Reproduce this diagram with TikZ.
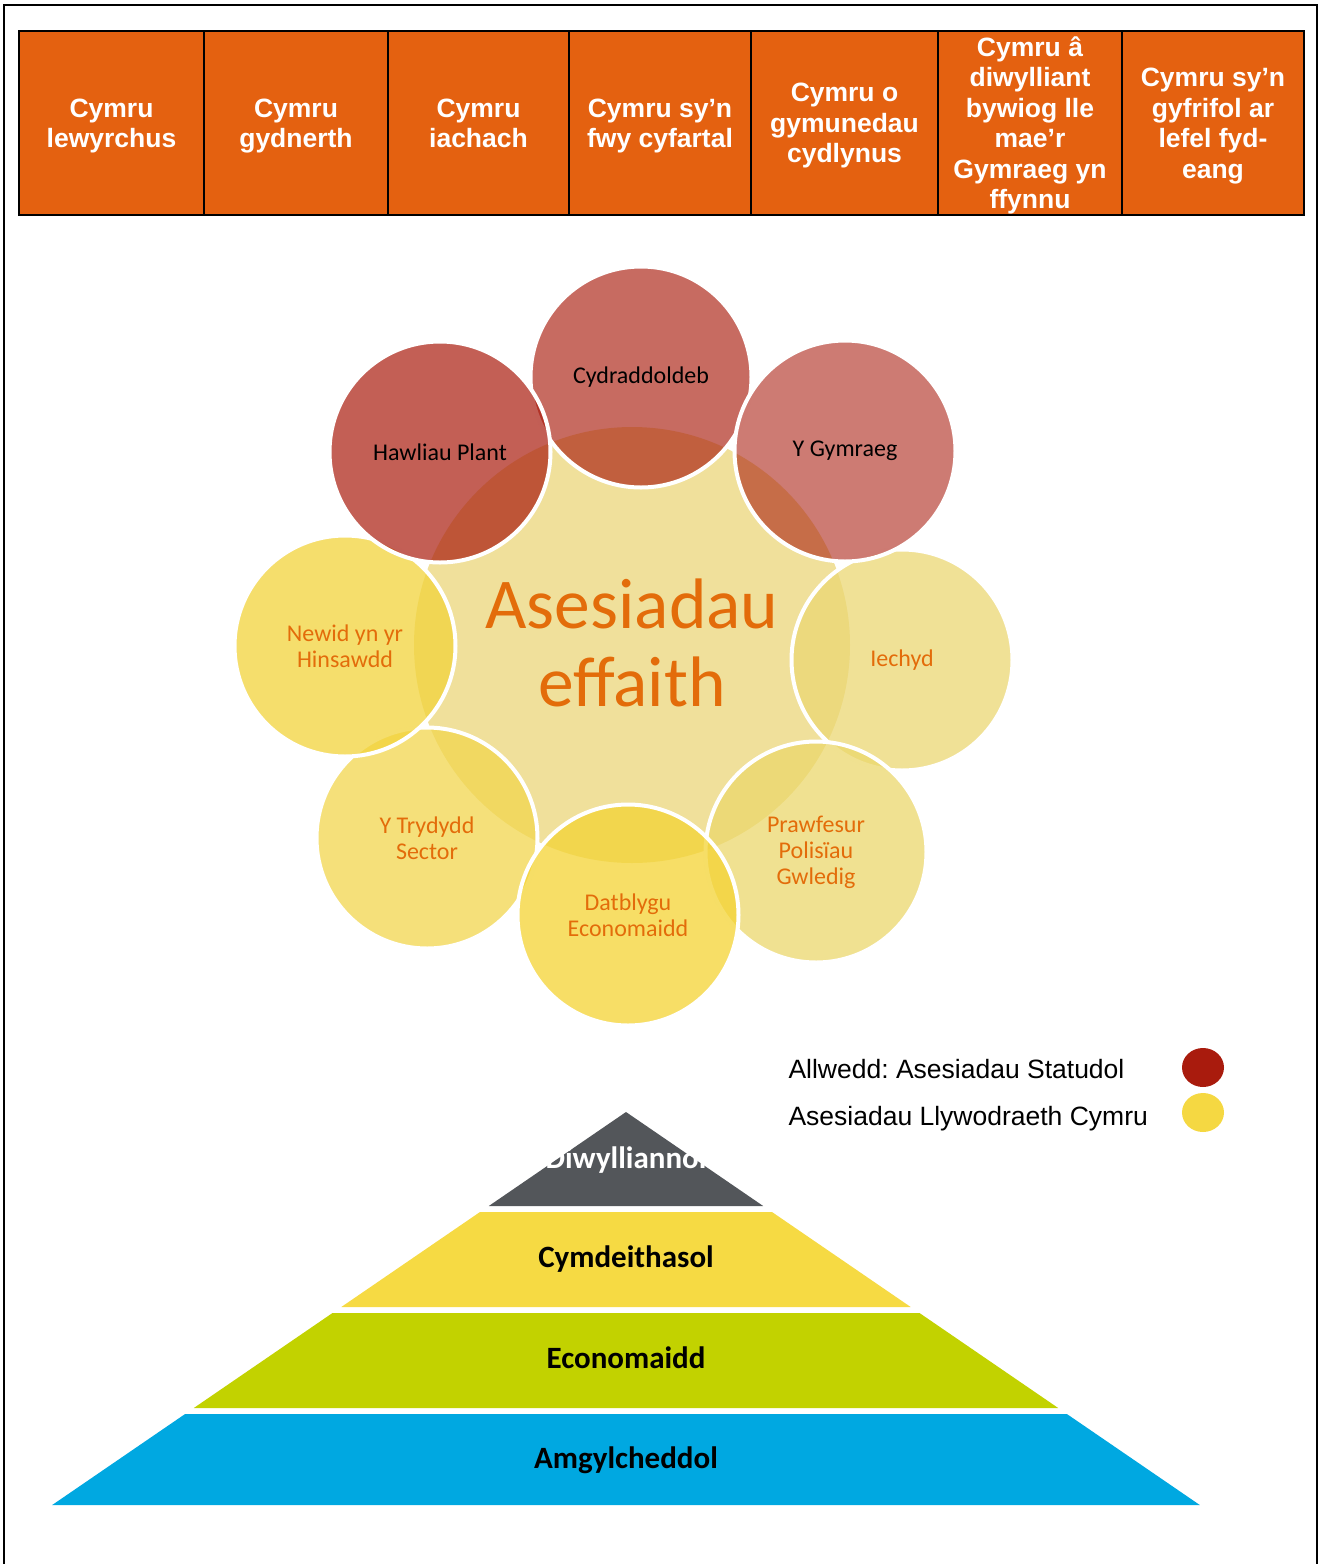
\documentclass[tikz,border=0pt]{standalone}
\usepackage{fontspec}
\usetikzlibrary{shapes.geometric}
\setmainfont{Liberation Sans}
\newfontfamily\calfont{Carlito}
\frenchspacing
\definecolor{tblorange}{HTML}{E46110}
\definecolor{statred}{HTML}{A91B0D}
\definecolor{wgyellow}{HTML}{F5D842}
\definecolor{ieorange}{HTML}{E36C0A}
\definecolor{centerfill}{HTML}{F0E09B}
\definecolor{ylA}{HTML}{F2D33B}
\definecolor{ylB}{HTML}{EBD773}
\definecolor{ylC}{HTML}{F2D64E}
\definecolor{ylD}{HTML}{EBD76C}
\definecolor{ylE}{HTML}{F4D333}
\definecolor{pygray}{HTML}{53565A}
\definecolor{pyyellow}{HTML}{F6DA43}
\definecolor{pygreen}{HTML}{C2D200}
\definecolor{pyblue}{HTML}{00A8E1}
\begin{document}
\begin{tikzpicture}[x=1pt,y=-1pt,
  cellbox/.style={draw=black, line width=2pt, fill=tblorange,
    minimum height=184pt, inner sep=0pt},
  celltext/.style={text=white, font=\bfseries\fontsize{26.5}{30.5}\selectfont,
    align=center, inner sep=0pt},
  bub/.style={circle, minimum size=221pt, inner sep=0pt, draw=white, line width=4pt,
    align=center, text opacity=1, font=\calfont\fontsize{24}{26}\selectfont},
  redbub/.style={bub, fill=statred, text=black},
  yelbub/.style={bub, text=ieorange, fill opacity=0.75},
  pylabel/.style={anchor=base, font=\calfont\bfseries\fontsize{31}{36}\selectfont},
  legtext/.style={anchor=base west, font=\fontsize{26.5}{30}\selectfont}
]
\useasboundingbox (0,0) rectangle (1320,1564);
% outer frame
\draw[line width=2pt] (4,1564) -- (4,5) -- (1317,5) -- (1317,1564);

% table
\node[cellbox, minimum width=185pt] (t1) at (111.5,123) {};
\node[cellbox, minimum width=184pt] (t2) at (296,123) {};
\node[cellbox, minimum width=181pt] (t3) at (478.5,123) {};
\node[cellbox, minimum width=182pt] (t4) at (660,123) {};
\node[cellbox, minimum width=187pt] (t5) at (844.5,123) {};
\node[cellbox, minimum width=184pt] (t6) at (1030,123) {};
\node[cellbox, minimum width=182pt] (t7) at (1213,123) {};
\node[celltext] (t1x) at (111.5,126.3) {\strut Cymru\\lewyrchus\strut};
\node[celltext] (t2x) at (296,126.3) {\strut Cymru\\gydnerth\strut};
\node[celltext] (t3x) at (478.5,126.3) {\strut Cymru\\iachach\strut};
\node[celltext] (t4x) at (660,126.3) {\strut Cymru sy’n\\fwy cyfartal\strut};
\node[celltext] (t5x) at (844.5,126.3) {\strut Cymru o\\gymunedau\\cydlynus\strut};
\node[celltext] (t6x) at (1030,126.3) {\strut Cymru â\\diwylliant\\bywiog lle\\mae’r\\Gymraeg yn\\ffynnu\strut};
\node[celltext] (t7x) at (1213,126.3) {\strut Cymru sy’n\\gyfrifol ar\\lefel fyd-\\eang\strut};

% centre circle
\node[circle, minimum size=436pt, inner sep=0pt, fill=centerfill] (ctr) at (632,645) {};

% outer circles (drawing order as in the reference)
\node[yelbub, fill=ylB] (iech) at (902,660) {Iechyd};
\node[yelbub, fill=ylC] (tryd) at (427,838) {Y Trydydd\\Sector};
\node[yelbub, fill=ylD] (praw) at (816,852) {Prawfesur\\Polisïau\\Gwledig};
\node[yelbub, fill=ylA] (newid) at (345,646) {Newid yn yr\\Hinsawdd};
\node[yelbub, fill=ylE] (datb) at (628,915) {Datblygu\\Economaidd};
\node[redbub, fill opacity=0.65] (cyd) at (641,377) {Cydraddoldeb};
\node[redbub, fill opacity=0.70] (hawl) at (440,452) {Hawliau Plant};
\node[redbub, fill opacity=0.58] (gym) at (845,451) {Y Gymraeg};

\node[align=center, text=ieorange, font=\calfont\fontsize{71.5}{78}\selectfont] (ctrtext) at (632,643) {Asesiadau\\effaith};

% legend
\node[legtext] (leg1) at (785,1078) {Allwedd: Asesiadau Statudol};
\node[legtext] (leg2) at (785,1125) {Asesiadau Llywodraeth Cymru};
\node[ellipse, fill=statred, minimum width=42pt, minimum height=39pt, inner sep=0pt] (dotred) at (1203,1067.5) {};
\node[ellipse, fill=wgyellow, minimum width=42pt, minimum height=39pt, inner sep=0pt] (dotyel) at (1203,1112.5) {};

% pyramid
\fill[pygray] (626,1112) -- (763.2,1206) -- (488.8,1206) -- cycle;
\fill[pyyellow] (480,1212) -- (772,1212) -- (910.7,1307) -- (341.3,1307) -- cycle;
\fill[pygreen] (332.5,1313) -- (919.5,1313) -- (1058.2,1408) -- (193.8,1408) -- cycle;
\fill[pyblue] (185.1,1414) -- (1066.9,1414) -- (1199.8,1505) -- (52.2,1505) -- cycle;

\node[pylabel, text=white] (pcult) at (626,1168) {Diwylliannol};
\node[pylabel] (psoc) at (626,1267) {Cymdeithasol};
\node[pylabel] (pecon) at (626,1368) {Economaidd};
\node[pylabel] (penv) at (626,1468) {Amgylcheddol};
\end{tikzpicture}
\end{document}
